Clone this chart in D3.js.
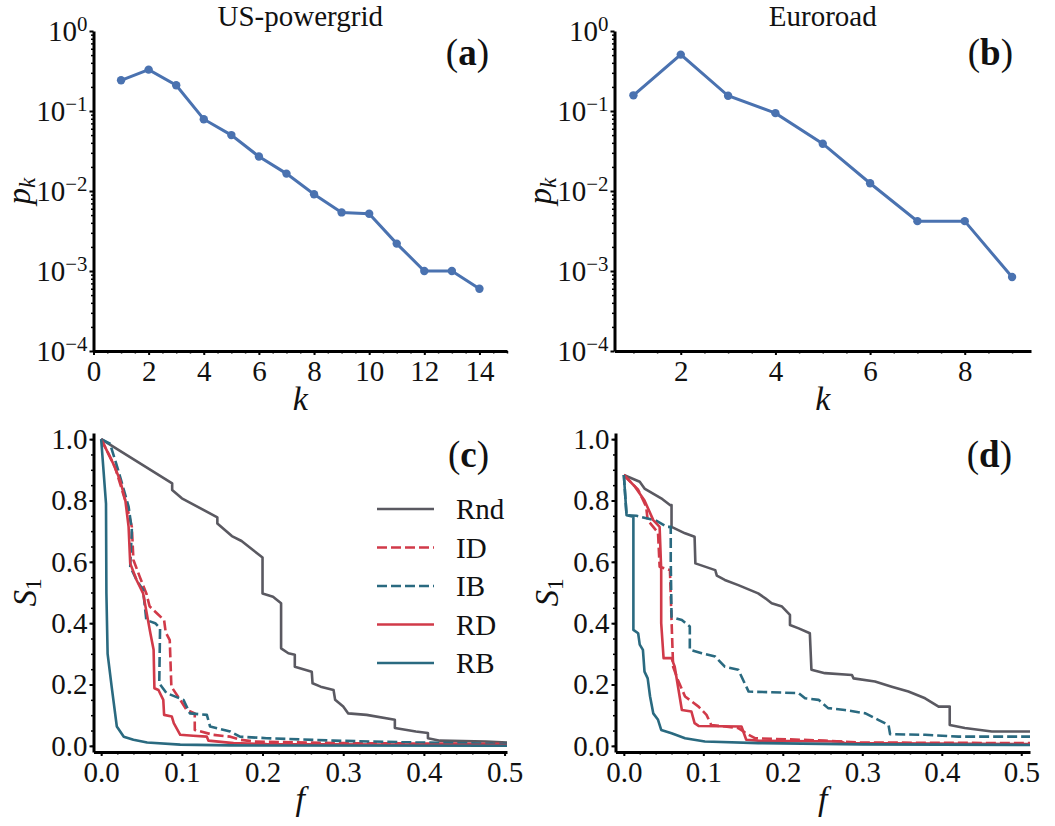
<!DOCTYPE html>
<html>
<head>
<meta charset="utf-8">
<script src="https://cdn.jsdelivr.net/npm/d3@7"></script>
<style>
  body { margin: 0; background: #fff; }
  svg text { font-family: "Liberation Serif", "DejaVu Serif", serif; fill: #111; }
</style>
</head>
<body>
<svg id="fig" width="1055" height="826"></svg>
<script>
// degree distributions
const kPower = [1, 2, 3, 4, 5, 6, 7, 8, 9, 10, 11, 12, 13, 14];
const pkPower = [0.242, 0.329, 0.21, 0.079, 0.05, 0.027, 0.0165, 0.0091, 0.0054, 0.0052, 0.0022, 0.001, 0.001, 0.0006];
const kEuro = [1, 2, 3, 4, 5, 6, 7, 8, 9];
const pkEuro = [0.157, 0.507, 0.155, 0.094, 0.039, 0.0125, 0.0042, 0.0042, 0.00084];

const logTicks = [1e-4, 1e-3, 1e-2, 1e-1, 1];
const kTicksPower = [0, 2, 4, 6, 8, 10, 12, 14];
const kTicksEuro = [2, 4, 6, 8];
const fTicks = [0, 0.1, 0.2, 0.3, 0.4, 0.5];
const sTicks = [0, 0.2, 0.4, 0.6, 0.8, 1.0];

const strategies = ["Rnd", "ID", "IB", "RD", "RB"];

// S1 vs f, US-powergrid  [f, S1]
const rndC = [[0,1.0],[0.088,0.856],[0.088,0.834],[0.1,0.807],[0.144,0.745],[0.144,0.725],[0.162,0.684],[0.174,0.668],[0.2,0.614],[0.2,0.497],[0.213,0.486],[0.223,0.465],[0.223,0.318],[0.232,0.302],[0.24,0.297],[0.24,0.258],[0.261,0.242],[0.262,0.204],[0.272,0.193],[0.288,0.182],[0.29,0.15],[0.3,0.128],[0.306,0.106],[0.329,0.101],[0.364,0.085],[0.364,0.058],[0.39,0.047],[0.405,0.042],[0.405,0.025],[0.42,0.017],[0.477,0.014],[0.503,0.011]];
const idC = [[0,1.0],[0.017,0.91],[0.031,0.79],[0.038,0.714],[0.04,0.606],[0.048,0.55],[0.056,0.497],[0.06,0.455],[0.07,0.43],[0.078,0.41],[0.08,0.37],[0.085,0.345],[0.087,0.193],[0.098,0.15],[0.106,0.117],[0.116,0.106],[0.116,0.052],[0.139,0.036],[0.16,0.03],[0.172,0.02],[0.19,0.014],[0.29,0.009],[0.503,0.0065]];
const ibC = [[0,1.0],[0.011,0.985],[0.021,0.9],[0.034,0.78],[0.038,0.705],[0.036,0.585],[0.044,0.54],[0.052,0.508],[0.056,0.41],[0.067,0.4],[0.073,0.383],[0.072,0.204],[0.081,0.172],[0.102,0.15],[0.11,0.106],[0.131,0.101],[0.135,0.063],[0.16,0.047],[0.172,0.03],[0.205,0.025],[0.288,0.017],[0.37,0.012],[0.503,0.0065]];
const rdC = [[0,1.0],[0.015,0.92],[0.0235,0.866],[0.03,0.8],[0.034,0.714],[0.036,0.595],[0.044,0.54],[0.052,0.497],[0.0565,0.432],[0.061,0.367],[0.065,0.313],[0.066,0.188],[0.071,0.182],[0.077,0.15],[0.078,0.101],[0.0875,0.096],[0.09,0.074],[0.098,0.036],[0.114,0.033],[0.131,0.03],[0.133,0.017],[0.164,0.009],[0.205,0.006],[0.503,0.003]];
const rbC = [[0,1.0],[0.006,0.79],[0.0065,0.497],[0.008,0.3],[0.013,0.193],[0.0194,0.063],[0.028,0.03],[0.04,0.02],[0.057,0.011],[0.098,0.004],[0.16,0.0015],[0.503,0.0005]];

// S1 vs f, Euroroad  [f, S1]
const rndD = [[0,0.883],[0.02,0.861],[0.026,0.839],[0.047,0.807],[0.058,0.785],[0.06,0.785],[0.06,0.714],[0.077,0.693],[0.089,0.682],[0.09,0.595],[0.115,0.573],[0.117,0.555],[0.127,0.541],[0.144,0.524],[0.169,0.497],[0.178,0.481],[0.186,0.465],[0.199,0.454],[0.209,0.427],[0.209,0.394],[0.22,0.383],[0.234,0.367],[0.236,0.248],[0.253,0.237],[0.287,0.231],[0.289,0.22],[0.316,0.21],[0.337,0.193],[0.358,0.177],[0.379,0.155],[0.396,0.128],[0.41,0.128],[0.41,0.068],[0.429,0.058],[0.463,0.047],[0.511,0.047]];
const idD = [[0,0.883],[0.018,0.835],[0.028,0.78],[0.03,0.736],[0.043,0.695],[0.045,0.584],[0.058,0.573],[0.06,0.41],[0.062,0.258],[0.068,0.215],[0.077,0.161],[0.094,0.128],[0.104,0.101],[0.11,0.068],[0.144,0.058],[0.157,0.036],[0.165,0.025],[0.253,0.017],[0.295,0.011],[0.511,0.009]];
const ibD = [[0,0.883],[0.0034,0.752],[0.016,0.75],[0.04,0.735],[0.054,0.714],[0.059,0.714],[0.059,0.606],[0.06,0.42],[0.073,0.41],[0.083,0.389],[0.083,0.313],[0.098,0.302],[0.115,0.291],[0.127,0.258],[0.144,0.248],[0.152,0.204],[0.157,0.177],[0.22,0.172],[0.228,0.155],[0.245,0.15],[0.257,0.123],[0.278,0.117],[0.304,0.106],[0.32,0.085],[0.333,0.068],[0.335,0.038],[0.379,0.036],[0.421,0.03],[0.511,0.03]];
const rdD = [[0,0.883],[0.014,0.845],[0.026,0.8],[0.037,0.736],[0.045,0.714],[0.047,0.573],[0.047,0.4],[0.05,0.286],[0.06,0.286],[0.064,0.258],[0.073,0.117],[0.085,0.112],[0.089,0.074],[0.094,0.065],[0.148,0.063],[0.154,0.02],[0.169,0.017],[0.274,0.014],[0.278,0.009],[0.511,0.006]];
const rbD = [[0,0.883],[0.0034,0.752],[0.012,0.747],[0.012,0.378],[0.018,0.367],[0.02,0.33],[0.024,0.313],[0.026,0.242],[0.03,0.22],[0.033,0.161],[0.037,0.106],[0.043,0.085],[0.047,0.052],[0.06,0.041],[0.077,0.025],[0.102,0.014],[0.169,0.009],[0.3,0.005],[0.511,0.003]];

const colors = { Rnd: "#5a5961", ID: "#d13a49", IB: "#2a6a80", RD: "#d13a49", RB: "#2a6a80" };
const dashes = { Rnd: null, ID: "10,4", IB: "10,4", RD: null, RB: null };

const svg = d3.select("#fig");
const tickFont = 29;

function styleAxis(g) {
  g.attr("font-size", tickFont).attr("font-family", null);
  g.select(".domain").attr("stroke", "#000").attr("stroke-width", 3);
  g.selectAll(".tick line").attr("stroke", "#000").attr("stroke-width", 2);
  g.selectAll(".tick text").attr("fill", "#111");
}

function minorAxis(g, axis) {
  g.call(axis);
  g.select(".domain").remove();
  g.selectAll(".tick line").attr("stroke", "#000").attr("stroke-width", 1.5);
}

function panel(box, x, y, opt) {
  const g = svg.append("g");
  // minor ticks
  g.append("g").attr("transform", `translate(${box.x0},0)`)
    .call(gg => minorAxis(gg, d3.axisLeft(y).tickValues(opt.yMinor).tickSize(2.5).tickFormat("")));
  g.append("g").attr("transform", `translate(0,${box.y1})`)
    .call(gg => minorAxis(gg, d3.axisBottom(x).tickValues(opt.xMinor).tickSize(2.5).tickFormat("")));

  const ya = g.append("g").attr("transform", `translate(${box.x0},0)`)
    .call(d3.axisLeft(y).tickValues(opt.yTicks).tickSize(4).tickSizeOuter(0).tickPadding(2).tickFormat(opt.yFmt))
    .call(styleAxis);
  if (opt.logY) {
    ya.selectAll(".tick text").each(function (d) {
      const t = d3.select(this).text(null);
      t.append("tspan").text("10");
      const e = Math.round(Math.log10(d));
      t.append("tspan").attr("dy", "-0.45em").attr("font-size", "0.72em")
        .text(e < 0 ? "\u2212" + (-e) : String(e));
    });
  }
  g.append("g").attr("transform", `translate(0,${box.y1})`)
    .call(d3.axisBottom(x).tickValues(opt.xTicks).tickSize(4).tickSizeOuter(0).tickPadding(5).tickFormat(opt.xFmt))
    .call(styleAxis);

  // panel letter
  const lab = g.append("text").attr("x", box.x1 - 18).attr("y", box.y0 + 34)
    .attr("text-anchor", "end").attr("font-size", 37);
  lab.append("tspan").text("(");
  lab.append("tspan").attr("font-weight", "bold").text(opt.letter);
  lab.append("tspan").text(")");
  return g;
}

function degreePanel(box, ks, pks, xDomain, xTicks, xMinor, letter, title) {
  const x = d3.scaleLinear().domain(xDomain).range([box.x0, box.x1]);
  const y = d3.scaleLog().domain([1e-4, 1]).range([box.y1, box.y0]);
  const yMinor = [];
  [1e-4, 1e-3, 1e-2, 1e-1].forEach(b => d3.range(2, 10).forEach(m => yMinor.push(b * m)));
  const g = panel(box, x, y, {
    yTicks: logTicks, yMinor, logY: true, yFmt: d => d,
    xTicks, xMinor, xFmt: d3.format("d"), letter
  });
  const pts = ks.map((k, i) => [k, pks[i]]);
  g.append("path").datum(pts)
    .attr("fill", "none").attr("stroke", "#4a72b0").attr("stroke-width", 3)
    .attr("d", d3.line().x(d => x(d[0])).y(d => y(d[1])));
  g.selectAll("circle.pt").data(pts).enter().append("circle")
    .attr("class", "pt").attr("cx", d => x(d[0])).attr("cy", d => y(d[1]))
    .attr("r", 4.2).attr("fill", "#4a72b0");
  g.append("text").attr("x", (box.x0 + box.x1) / 2).attr("y", 26)
    .attr("text-anchor", "middle").attr("font-size", 29).text(title);
  // axis labels
  g.append("text").attr("x", (box.x0 + box.x1) / 2).attr("y", box.y1 + 59)
    .attr("text-anchor", "middle").attr("font-size", 34).attr("font-style", "italic").text("k");
  const yl = g.append("text").attr("transform", `translate(${box.x0 - 64},${(box.y0 + box.y1) / 2}) rotate(-90)`)
    .attr("text-anchor", "middle").attr("font-size", 33).attr("font-style", "italic");
  yl.append("tspan").text("p");
  yl.append("tspan").attr("dy", "0.25em").attr("font-size", "0.7em").text("k");
}

function robustPanel(box, xDomain, series, letter, legend) {
  const x = d3.scaleLinear().domain(xDomain).range([box.x0, box.x1]);
  const y = d3.scaleLinear().domain([-0.02, 1.02]).range([box.y1, box.y0]);
  const g = panel(box, x, y, {
    yTicks: sTicks, yMinor: d3.range(0, 1.001, 0.05), yFmt: d3.format(".1f"),
    xTicks: fTicks, xMinor: d3.range(0, 0.511, 0.02), xFmt: d3.format(".1f"), letter
  });
  const line = d3.line().x(d => x(d[0])).y(d => y(d[1]));
  strategies.forEach((s, i) => {
    g.append("path").datum(series[i])
      .attr("fill", "none").attr("stroke", colors[s]).attr("stroke-width", 2.6)
      .attr("stroke-dasharray", dashes[s]).attr("stroke-linejoin", "round")
      .attr("d", line);
  });
  g.append("text").attr("x", (box.x0 + box.x1) / 2).attr("y", box.y1 + 58)
    .attr("text-anchor", "middle").attr("font-size", 34).attr("font-style", "italic").text("f");
  const yl = g.append("text").attr("transform", `translate(${box.x0 - 58},${(box.y0 + box.y1) / 2}) rotate(-90)`)
    .attr("text-anchor", "middle").attr("font-size", 33);
  yl.append("tspan").attr("font-style", "italic").text("S");
  yl.append("tspan").attr("dy", "0.25em").attr("font-size", "0.7em").text("1");

  if (legend) {
    const lg = g.append("g").attr("transform", "translate(377,509)");
    strategies.forEach((s, i) => {
      const row = lg.append("g").attr("transform", `translate(0,${i * 38.5})`);
      row.append("line").attr("x1", 0).attr("x2", 57).attr("y1", 0).attr("y2", 0)
        .attr("stroke", colors[s]).attr("stroke-width", 2.6).attr("stroke-dasharray", dashes[s]);
      row.append("text").attr("x", 79).attr("y", 10).attr("font-size", 29).text(s);
    });
  }
}

degreePanel({ x0: 93.5, x1: 507, y0: 31, y1: 351 }, kPower, pkPower, [0, 15], kTicksPower,
  d3.range(0, 15.01, 0.5), "a", "US-powergrid");
degreePanel({ x0: 614.5, x1: 1031, y0: 31, y1: 351 }, kEuro, pkEuro, [0.6, 9.4], kTicksEuro,
  d3.range(1, 9.41, 0.5), "b", "Euroroad");
robustPanel({ x0: 93.5, x1: 507, y0: 433, y1: 752 }, [-0.0095, 0.503], [rndC, idC, ibC, rdC, rbC], "c", true);
robustPanel({ x0: 615.5, x1: 1030, y0: 433, y1: 752 }, [-0.0105, 0.511], [rndD, idD, ibD, rdD, rbD], "d", false);
</script>
</body>
</html>
